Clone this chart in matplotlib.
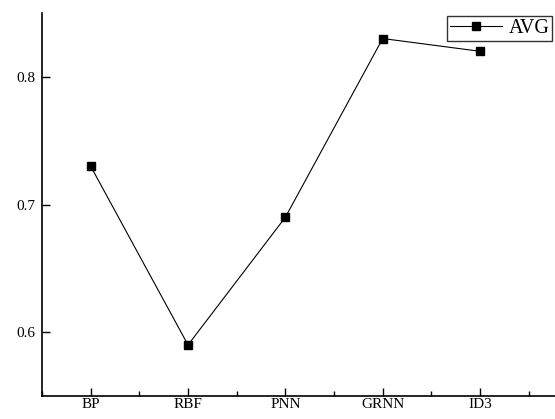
import matplotlib
matplotlib.use("Agg")
import matplotlib.pyplot as plt
from matplotlib.ticker import MultipleLocator

methods = ["BP", "RBF", "PNN", "GRNN", "ID3"]
avg = [0.73, 0.59, 0.69, 0.83, 0.82]

plt.rcParams['font.family'] = ['Liberation Serif', 'DejaVu Serif']

fig = plt.figure(figsize=(5.55, 4.19), dpi=100)
W, H = 555, 419
# axes box in pixels: left 42, right 555 (clipped), top 13, bottom 396
ax = fig.add_axes([42 / W, (H - 396) / H, (555 - 42) / W, (396 - 13) / H])

x = list(range(len(methods)))
ax.plot(x, avg, color="black", lw=0.8, marker="s", ms=6,
        mfc="black", mec="black", label="AVG")

ax.set_xlim(-0.5, 4.77)
ax.set_ylim(0.55, 0.85)
ax.set_xticks(x)
ax.set_xticklabels(methods)
ax.xaxis.set_minor_locator(MultipleLocator(0.5))
ax.set_yticks([0.6, 0.7, 0.8])

for s in ["top", "right"]:
    ax.spines[s].set_visible(False)
for s in ["left", "bottom"]:
    ax.spines[s].set_linewidth(1.2)

ax.tick_params(which="major", direction="in", length=6, width=1.0, labelsize=11)
ax.tick_params(which="minor", direction="in", length=3.5, width=1.0)
ax.tick_params(axis="x", which="minor", bottom=True)
ax.tick_params(axis="y", which="minor", left=False)
ax.tick_params(axis="x", pad=1.5)
ax.tick_params(axis="y", pad=5)

leg = ax.legend(loc="upper left", bbox_to_anchor=(447 / W, 1 - 16 / H),
                bbox_transform=fig.transFigure, fontsize=14.5, frameon=True,
                fancybox=False, borderpad=0.15, handlelength=2.6,
                handletextpad=0.3, borderaxespad=0, markerscale=0.85)
leg.get_frame().set_edgecolor("black")
leg.get_frame().set_linewidth(1.0)

fig.savefig("out.png", dpi=100)
